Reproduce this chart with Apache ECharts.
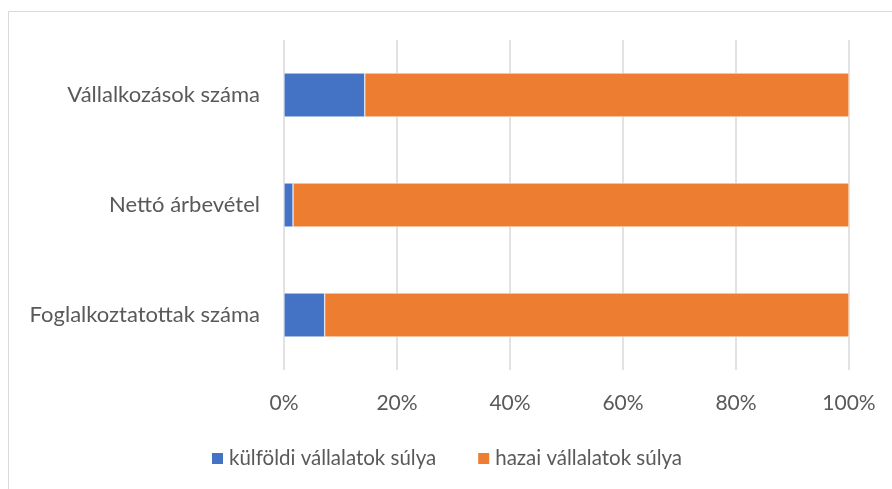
<!DOCTYPE html>
<html>
<head>
<meta charset="utf-8">
<script src="https://cdn.jsdelivr.net/npm/echarts@6/dist/echarts.min.js"></script>
<style>
  html, body { margin: 0; padding: 0; background: #fff; }
  #chart { width: 892px; height: 489px; }
</style>
</head>
<body>
<div id="chart"></div>
<script>
  // kategóriák (felülről lefelé)
  var categories = ['Vállalkozások száma', 'Nettó árbevétel', 'Foglalkoztatottak száma']
  // százalékos megoszlás
  var kulfoldi = [14.3, 1.6, 7.2]
  var hazai = [85.7, 98.4, 92.8]
  var seriesNames = ['külföldi vállalatok súlya', 'hazai vállalatok súlya']
  var colors = ['#4472C4', '#ED7D31']

  var textColor = '#595959'
  var font = 'Lato, "Open Sans", sans-serif'

  var chart = echarts.init(document.getElementById('chart'))
  chart.setOption({
    animation: false,
    color: colors,
    textStyle: { fontFamily: font },
    graphic: [{
      type: 'rect',
      shape: { x: 8.5, y: 11.5, width: 900, height: 500 },
      style: { fill: 'none', stroke: '#d9d9d9', lineWidth: 1 },
      silent: true
    }],
    grid: {
      left: 284,
      right: 43,
      top: 40,
      bottom: 119
    },
    legend: {
      data: seriesNames,
      top: 443,
      left: 205,
      icon: 'rect',
      itemWidth: 13,
      itemHeight: 13,
      itemGap: 40,
      textStyle: { color: textColor, fontSize: 20.5, fontFamily: font }
    },
    xAxis: {
      type: 'value',
      min: 0,
      max: 100,
      interval: 20,
      axisLine: { show: false },
      axisTick: { show: false },
      splitLine: { lineStyle: { color: '#d9d9d9', width: 1.5 } },
      axisLabel: {
        color: textColor,
        fontSize: 21,
        fontFamily: font,
        margin: 23,
        formatter: '{value}%'
      }
    },
    yAxis: {
      type: 'category',
      data: categories,
      inverse: true,
      axisLine: { show: false },
      axisTick: { show: false },
      axisLabel: {
        color: textColor,
        fontSize: 22,
        fontFamily: font,
        margin: 24
      }
    },
    series: [
      {
        name: seriesNames[0],
        type: 'bar',
        stack: 'total',
        barWidth: 44,
        data: kulfoldi,
        itemStyle: { borderColor: '#fff', borderWidth: 0.5 }
      },
      {
        name: seriesNames[1],
        type: 'bar',
        stack: 'total',
        barWidth: 44,
        data: hazai,
        itemStyle: { borderColor: '#fff', borderWidth: 0.5 }
      }
    ]
  })
</script>
</body>
</html>
